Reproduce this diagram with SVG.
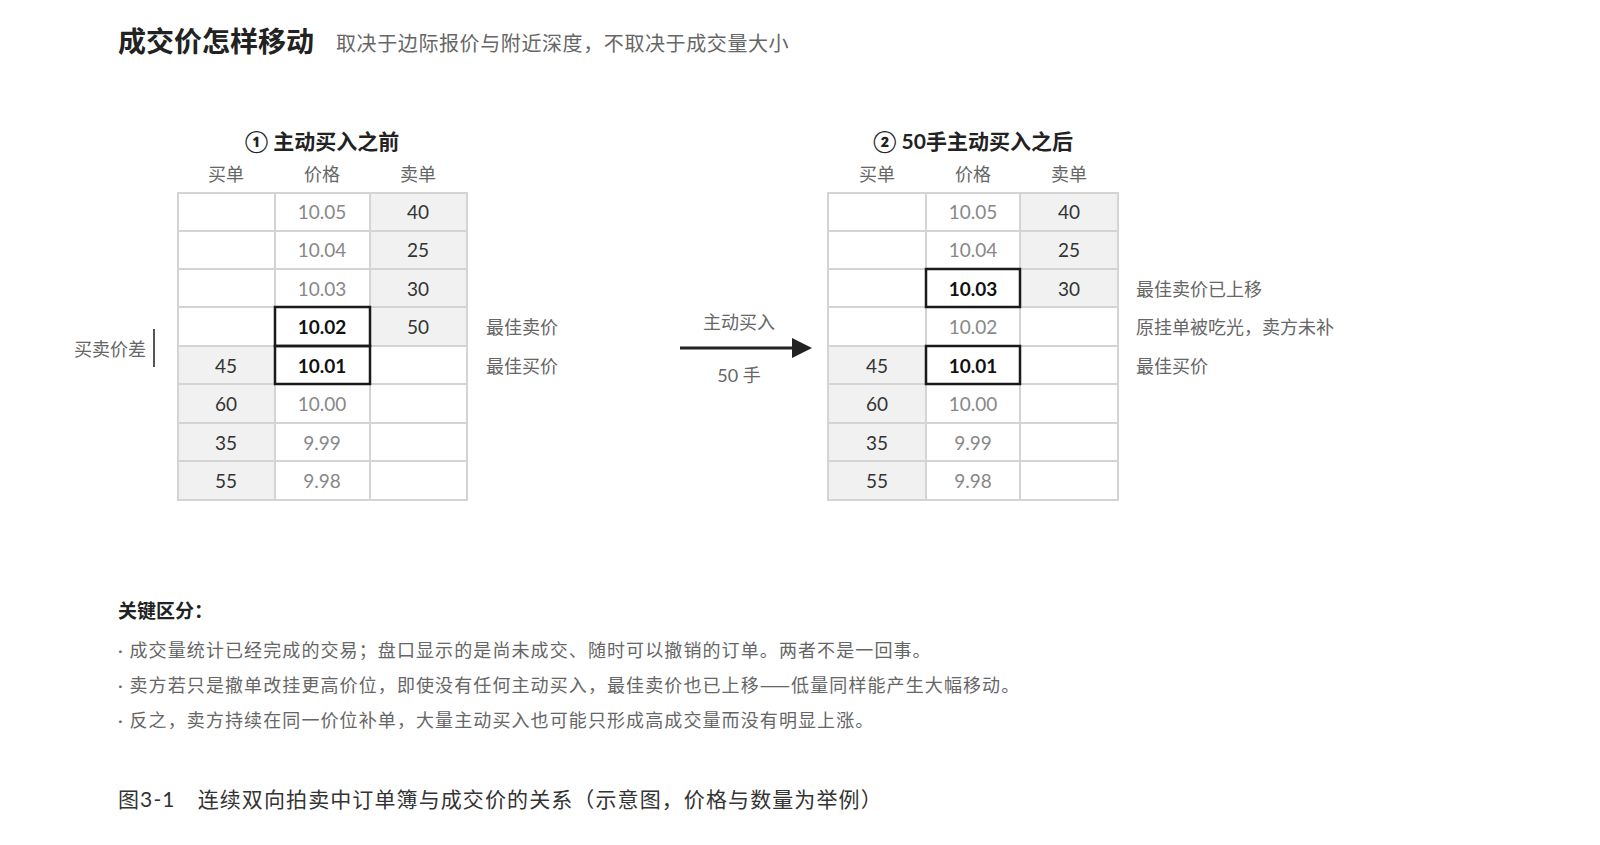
<svg xmlns="http://www.w3.org/2000/svg" width="1600" height="845" viewBox="0 0 1600 845">
<style>
text{font-family:Lato,"Noto Sans CJK SC",sans-serif;}
.c{fill:#fff;stroke:#d4d4d4;stroke-width:2}
.g{fill:#f1f1f1;stroke:#d4d4d4;stroke-width:2}
.hl{fill:none;stroke:#1a1a1a;stroke-width:2.5}
.n{font-size:19px;fill:#333;text-anchor:middle}
.p{font-size:19px;fill:#888;text-anchor:middle}
.b{font-size:19px;fill:#111;font-weight:bold;text-anchor:middle}
.h{font-size:18px;fill:#666;text-anchor:middle}
.t{font-size:21px;fill:#222;font-weight:bold;text-anchor:middle}
.s{font-size:18px;fill:#666}
.l{letter-spacing:1.1px}
.k{font-family:"Noto Sans CJK SC",sans-serif}
</style>
<rect width="1600" height="845" fill="#fff"/>
<text x="118" y="52" style="font-size:28px;font-weight:bold;fill:#222">成交价怎样移动</text>
<text x="336" y="51" style="font-size:20px;fill:#666;letter-spacing:0.6px">取决于边际报价与附近深度，不取决于成交量大小</text>

<g id="table-before">
<text class="t" x="322" y="149">① 主动买入之前</text>
<text class="h" x="226" y="181">买单</text><text class="h" x="322" y="181">价格</text><text class="h" x="418" y="181">卖单</text>
<rect class="c" x="178" y="193" width="97" height="38"/><rect class="c" x="275" y="193" width="95" height="38"/><rect class="g" x="370" y="193" width="97" height="38"/>
<rect class="c" x="178" y="231" width="97" height="38"/><rect class="c" x="275" y="231" width="95" height="38"/><rect class="g" x="370" y="231" width="97" height="38"/>
<rect class="c" x="178" y="269" width="97" height="38"/><rect class="c" x="275" y="269" width="95" height="38"/><rect class="g" x="370" y="269" width="97" height="38"/>
<rect class="c" x="178" y="307" width="97" height="39"/><rect class="c" x="275" y="307" width="95" height="39"/><rect class="g" x="370" y="307" width="97" height="39"/>
<rect class="g" x="178" y="346" width="97" height="38"/><rect class="c" x="275" y="346" width="95" height="38"/><rect class="c" x="370" y="346" width="97" height="38"/>
<rect class="g" x="178" y="384" width="97" height="39"/><rect class="c" x="275" y="384" width="95" height="39"/><rect class="c" x="370" y="384" width="97" height="39"/>
<rect class="g" x="178" y="423" width="97" height="38"/><rect class="c" x="275" y="423" width="95" height="38"/><rect class="c" x="370" y="423" width="97" height="38"/>
<rect class="g" x="178" y="461" width="97" height="39"/><rect class="c" x="275" y="461" width="95" height="39"/><rect class="c" x="370" y="461" width="97" height="39"/>
<rect class="hl" x="275" y="307" width="95" height="39"/><rect class="hl" x="275" y="346" width="95" height="38"/>
<text class="p" x="322" y="219">10.05</text><text class="n" x="418" y="219">40</text>
<text class="p" x="322" y="257">10.04</text><text class="n" x="418" y="257">25</text>
<text class="p" x="322" y="296">10.03</text><text class="n" x="418" y="296">30</text>
<text class="b" x="322" y="334">10.02</text><text class="n" x="418" y="334">50</text>
<text class="n" x="226" y="373">45</text><text class="b" x="322" y="373">10.01</text>
<text class="n" x="226" y="411">60</text><text class="p" x="322" y="411">10.00</text>
<text class="n" x="226" y="450">35</text><text class="p" x="322" y="450">9.99</text>
<text class="n" x="226" y="488">55</text><text class="p" x="322" y="488">9.98</text>
<text class="s" x="486" y="334">最佳卖价</text><text class="s" x="486" y="373">最佳买价</text>
<line x1="154" y1="329" x2="154" y2="367" stroke="#555" stroke-width="2"/>
<text class="s" x="74" y="356">买卖价差</text>
</g>

<g id="table-after">
<text class="t" x="973" y="149">② 50手主动买入之后</text>
<text class="h" x="877" y="181">买单</text><text class="h" x="973" y="181">价格</text><text class="h" x="1069" y="181">卖单</text>
<rect class="c" x="828" y="193" width="98" height="38"/><rect class="c" x="926" y="193" width="94" height="38"/><rect class="g" x="1020" y="193" width="98" height="38"/>
<rect class="c" x="828" y="231" width="98" height="38"/><rect class="c" x="926" y="231" width="94" height="38"/><rect class="g" x="1020" y="231" width="98" height="38"/>
<rect class="c" x="828" y="269" width="98" height="38"/><rect class="c" x="926" y="269" width="94" height="38"/><rect class="g" x="1020" y="269" width="98" height="38"/>
<rect class="c" x="828" y="307" width="98" height="39"/><rect class="c" x="926" y="307" width="94" height="39"/><rect class="c" x="1020" y="307" width="98" height="39"/>
<rect class="g" x="828" y="346" width="98" height="38"/><rect class="c" x="926" y="346" width="94" height="38"/><rect class="c" x="1020" y="346" width="98" height="38"/>
<rect class="g" x="828" y="384" width="98" height="39"/><rect class="c" x="926" y="384" width="94" height="39"/><rect class="c" x="1020" y="384" width="98" height="39"/>
<rect class="g" x="828" y="423" width="98" height="38"/><rect class="c" x="926" y="423" width="94" height="38"/><rect class="c" x="1020" y="423" width="98" height="38"/>
<rect class="g" x="828" y="461" width="98" height="39"/><rect class="c" x="926" y="461" width="94" height="39"/><rect class="c" x="1020" y="461" width="98" height="39"/>
<rect class="hl" x="926" y="269" width="94" height="38"/><rect class="hl" x="926" y="346" width="94" height="38"/>
<text class="p" x="973" y="219">10.05</text><text class="n" x="1069" y="219">40</text>
<text class="p" x="973" y="257">10.04</text><text class="n" x="1069" y="257">25</text>
<text class="b" x="973" y="296">10.03</text><text class="n" x="1069" y="296">30</text>
<text class="p" x="973" y="334">10.02</text>
<text class="n" x="877" y="373">45</text><text class="b" x="973" y="373">10.01</text>
<text class="n" x="877" y="411">60</text><text class="p" x="973" y="411">10.00</text>
<text class="n" x="877" y="450">35</text><text class="p" x="973" y="450">9.99</text>
<text class="n" x="877" y="488">55</text><text class="p" x="973" y="488">9.98</text>
<text class="s" x="1136" y="296">最佳卖价已上移</text>
<text class="s" x="1136" y="334">原挂单被吃光，卖方未补</text>
<text class="s" x="1136" y="373">最佳买价</text>
</g>

<g id="connectors">
<line x1="680" y1="348" x2="795" y2="348" stroke="#222" stroke-width="3"/>
<polygon points="792,338 812,348 792,358" fill="#222"/>
<text class="s" x="739" y="329" text-anchor="middle">主动买入</text>
<text class="s" x="739" y="382" text-anchor="middle">50 手</text>
</g>

<text x="118" y="618" style="font-size:19px;font-weight:bold;fill:#222">关键区分：</text>
<text class="s l" x="118" y="657">· 成交量统计已经完成的交易；盘口显示的是尚未成交、随时可以撤销的订单。两者不是一回事。</text>
<text class="s l" x="118" y="692">· 卖方若只是撤单改挂更高价位，即使没有任何主动买入，最佳卖价也已上移<tspan class="k">——</tspan>低量同样能产生大幅移动。</text>
<text class="s l" x="118" y="727">· 反之，卖方持续在同一价位补单，大量主动买入也可能只形成高成交量而没有明显上涨。</text>
<text x="118" y="807" style="font-size:21px;fill:#333;letter-spacing:1.1px">图3-1　连续双向拍卖中订单簿与成交价的关系（示意图，价格与数量为举例）</text>
</svg>
